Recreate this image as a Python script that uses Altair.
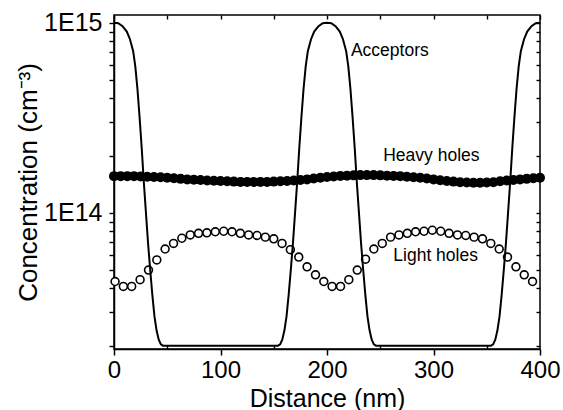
import altair as alt
import pandas as pd

# ---------------- data ----------------
acc_x = [0, 4, 8, 12, 15, 18, 20, 22, 24, 26, 28, 30, 32, 34, 36, 38, 40, 42, 44, 46,
         154, 156, 158, 160, 162, 164, 166, 168, 170, 172, 174, 176, 178, 180, 182, 185, 188, 192, 196, 200,
         204, 208, 212, 215, 218, 220, 222, 224, 226, 228, 230, 232, 234, 236, 238, 240, 242, 244, 246,
         354, 356, 358, 360, 362, 364, 366, 368, 370, 372, 374, 376, 378, 380, 382, 385, 388, 392, 396, 400]
acc_y = [1.0e15, 9.95e14, 9.6e14, 9.0e14, 8.2e14, 7.1e14, 5.9e14, 4.5e14, 3.2e14, 2.2e14, 1.45e14, 1.0e14,
         6.9e13, 5.0e13, 3.7e13, 2.85e13, 2.4e13, 2.15e13, 2.03e13, 2.0e13,
         2.0e13, 2.03e13, 2.15e13, 2.4e13, 2.85e13, 3.7e13, 5.0e13, 6.9e13, 1.0e14, 1.45e14, 2.2e14, 3.2e14,
         4.5e14, 5.9e14, 7.1e14, 8.2e14, 9.0e14, 9.6e14, 9.95e14, 1.0e15,
         9.95e14, 9.6e14, 9.0e14, 8.2e14, 7.1e14, 5.9e14, 4.5e14, 3.2e14, 2.2e14, 1.45e14, 1.0e14,
         6.9e13, 5.0e13, 3.7e13, 2.85e13, 2.4e13, 2.15e13, 2.03e13, 2.0e13,
         2.0e13, 2.03e13, 2.15e13, 2.4e13, 2.85e13, 3.7e13, 5.0e13, 6.9e13, 1.0e14, 1.45e14, 2.2e14, 3.2e14,
         4.5e14, 5.9e14, 7.1e14, 8.2e14, 9.0e14, 9.6e14, 9.95e14, 1.0e15]

heavy_x = [0, 6.25, 12.5, 18.75, 25, 31.25, 37.5, 43.75, 50, 56.25, 62.5, 68.75, 75, 81.25, 87.5, 93.75,
           100, 106.25, 112.5, 118.75, 125, 131.25, 137.5, 143.75, 150, 156.25, 162.5, 168.75, 175, 181.25,
           187.5, 193.75, 200, 206.25, 212.5, 218.75, 225, 231.25, 237.5, 243.75, 250, 256.25, 262.5, 268.75,
           275, 281.25, 287.5, 293.75, 300, 306.25, 312.5, 318.75, 325, 331.25, 337.5, 343.75, 350, 356.25,
           362.5, 368.75, 375, 381.25, 387.5, 393.75, 400]
heavy_y = [1.56e14, 1.56e14, 1.56e14, 1.56e14, 1.555e14, 1.55e14, 1.545e14, 1.54e14, 1.53e14, 1.52e14,
           1.51e14, 1.50e14, 1.495e14, 1.49e14, 1.48e14, 1.475e14, 1.47e14, 1.465e14, 1.46e14, 1.455e14,
           1.455e14, 1.455e14, 1.455e14, 1.455e14, 1.46e14, 1.465e14, 1.47e14, 1.48e14, 1.49e14, 1.50e14,
           1.515e14, 1.53e14, 1.545e14, 1.555e14, 1.565e14, 1.57e14, 1.575e14, 1.58e14, 1.58e14, 1.58e14,
           1.575e14, 1.57e14, 1.565e14, 1.56e14, 1.55e14, 1.54e14, 1.53e14, 1.515e14, 1.50e14, 1.485e14,
           1.47e14, 1.46e14, 1.45e14, 1.445e14, 1.44e14, 1.44e14, 1.445e14, 1.45e14, 1.465e14, 1.48e14,
           1.49e14, 1.50e14, 1.51e14, 1.52e14, 1.53e14]

light_x = [1, 8.8, 16.6, 24.5, 32.4, 40.2, 48, 55.9, 63.7, 71.6, 79.4, 87.2, 95.1, 103, 110.8, 118.6,
           126.4, 134.3, 142.1, 150, 157.8, 165.6, 173.5, 181.3, 189.2, 197, 204.8, 212.7, 220.5, 228.4,
           236.2, 244, 251.9, 259.7, 267.6, 275.4, 283.2, 291.1, 298.9, 306.8, 314.6, 322.5, 330.3, 338.1,
           346, 353.8, 361.7, 369.5, 377.4, 385.2, 393]
light_y = [4.35e13, 4.1e13, 4.1e13, 4.45e13, 5.0e13, 5.65e13, 6.45e13, 6.9e13, 7.35e13, 7.65e13, 7.8e13,
           7.85e13, 7.95e13, 8.0e13, 7.95e13, 7.8e13, 7.65e13, 7.6e13, 7.45e13, 7.3e13, 6.9e13, 6.4e13,
           5.85e13, 5.2e13, 4.72e13, 4.35e13, 4.1e13, 4.1e13, 4.45e13, 5.0e13, 5.7e13, 6.45e13, 6.9e13,
           7.45e13, 7.65e13, 7.8e13, 7.95e13, 8.0e13, 8.1e13, 8.0e13, 7.8e13, 7.65e13, 7.6e13, 7.45e13,
           7.3e13, 6.9e13, 6.45e13, 5.85e13, 5.2e13, 4.72e13, 4.35e13]

ann_text = ["Acceptors", "Heavy holes", "Light holes"]
ann_x = [259, 298, 302]
ann_y = [6.73e14, 1.88e14, 5.61e13]

x_major = [0, 100, 200, 300, 400]
x_all = [0, 50, 100, 150, 200, 250, 300, 350, 400]
x_minor = [50, 150, 250, 350]
y_ticks = [2e13, 3e13, 4e13, 5e13, 6e13, 7e13, 8e13, 9e13,
           1e14, 2e14, 3e14, 4e14, 5e14, 6e14, 7e14, 8e14, 9e14, 1e15]

# ---------------- chart ----------------
W, H = 426, 334
FONT = "Liberation Sans"

df_acc = pd.DataFrame({"x": acc_x, "v": acc_y})
df_heavy = pd.DataFrame({"x": heavy_x, "v": heavy_y})
df_light = pd.DataFrame({"x": light_x, "v": light_y})
df_ann = pd.DataFrame({"t": ann_text, "x": ann_x, "v": ann_y})

xs = alt.Scale(domain=[0, 400], nice=False, zero=False)
ys = alt.Scale(type="log", domain=[1.92e13, 1.1e15], nice=False)

label_expr = ("datum.value == 100000000000000 ? '1E14' : "
              "(datum.value == 1000000000000000 ? '1E15' : '')")

main_x_axis = alt.Axis(values=x_major, title="Distance (nm)", orient="bottom",
                       grid=False, tickSize=6, tickWidth=1.5, tickColor="black",
                       domainColor="black", domainWidth=1.5,
                       labelFont=FONT, labelFontSize=24, labelColor="black", labelPadding=3,
                       labelFlush=False, labelOverlap=False,
                       titleFont=FONT, titleFontSize=25, titleFontWeight="normal",
                       titleColor="black", titlePadding=4)
main_y_axis = alt.Axis(values=y_ticks, title="Concentration (cm\u207b\u00b3)", orient="left",
                       grid=False, tickSize=5, tickWidth=1.4, tickColor="black",
                       domainColor="black", domainWidth=1.5,
                       labelExpr=label_expr, labelFont=FONT, labelFontSize=25,
                       labelColor="black", labelPadding=7, labelOverlap=False,
                       labelFlush=False,
                       titleFont=FONT, titleFontSize=26, titleFontWeight="normal",
                       titleColor="black", titlePadding=2)

acc = alt.Chart(df_acc).mark_line(color="black", strokeWidth=2, clip=True).encode(
    x=alt.X("x:Q", scale=xs, axis=main_x_axis),
    y=alt.Y("v:Q", scale=ys, axis=main_y_axis),
)

# top inside ticks and right inside ticks
heavy = alt.Chart(df_heavy).mark_point(shape="circle", filled=True, color="black",
                                       size=100, opacity=1).encode(
    x=alt.X("x:Q", scale=xs, axis=alt.Axis(values=x_all, orient="bottom", offset=-H,
                                           labels=False, title=None, domain=False, grid=False,
                                           tickSize=4, tickWidth=1.4, tickColor="black")),
    y=alt.Y("v:Q", scale=ys, axis=alt.Axis(values=y_ticks, orient="left", offset=-W,
                                           labels=False, title=None, domain=False, grid=False,
                                           tickSize=4, tickWidth=1.4, tickColor="black")),
)

# bottom inside minor ticks
light = alt.Chart(df_light).mark_point(shape="circle", filled=True, fill="white",
                                       stroke="black", strokeWidth=1.6, size=62,
                                       opacity=1).encode(
    x=alt.X("x:Q", scale=xs, axis=alt.Axis(values=x_minor, orient="top", offset=-H,
                                           labels=False, title=None, domain=False, grid=False,
                                           tickSize=4, tickWidth=1.4, tickColor="black")),
    y=alt.Y("v:Q", scale=ys, axis=None),
)

ann = alt.Chart(df_ann).mark_text(font=FONT, fontSize=17.5, color="black",
                                  align="center", baseline="alphabetic").encode(
    x=alt.X("x:Q", scale=xs, axis=None),
    y=alt.Y("v:Q", scale=ys, axis=None),
    text="t:N",
)

chart = alt.layer(heavy, light, acc, ann).resolve_axis(
    x="independent", y="independent"
).properties(
    width=W, height=H,
    autosize=alt.AutoSizeParams(type="none"),
    padding={"left": 114, "top": 15, "right": 23, "bottom": 61},
    background="white",
).configure_view(stroke="black", strokeWidth=1.5)

chart.save("out.html", embed_options={"renderer": "svg", "actions": False})
